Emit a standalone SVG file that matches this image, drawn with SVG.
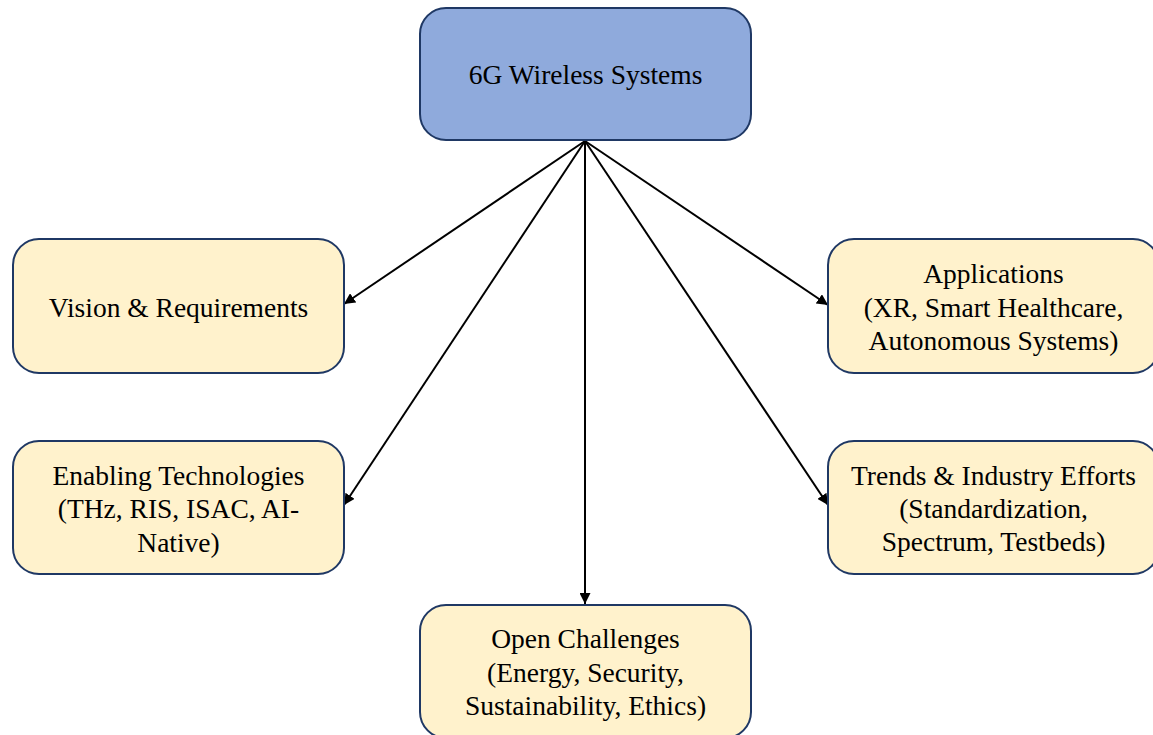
<svg xmlns="http://www.w3.org/2000/svg" width="1153" height="735" viewBox="0 0 1153 735">
<style>
.node rect{stroke:#1F3864;stroke-width:2}
.main rect{fill:#8FAADC}
.sub rect{fill:#FFF2CC}
text{font-family:"Liberation Serif","Times New Roman",serif;font-size:27.5px;fill:#000;text-anchor:middle}
.edge{stroke:#000;stroke-width:2;fill:none;marker-end:url(#arr)}
</style>
<defs>
<marker id="arr" viewBox="0 0 10 10" refX="10" refY="5" markerWidth="5.5" markerHeight="5.5" orient="auto" markerUnits="strokeWidth">
<path d="M0,0 L10,5 L0,10 z" fill="#000"/>
</marker>
</defs>
<rect width="1153" height="735" fill="#fff"/>
<g id="connectors">
<line class="edge" x1="585" y1="141" x2="344" y2="304"/>
<line class="edge" x1="585" y1="141" x2="344" y2="505"/>
<line class="edge" x1="585" y1="141" x2="585" y2="604"/>
<line class="edge" x1="585" y1="141" x2="828" y2="305"/>
<line class="edge" x1="585" y1="141" x2="828" y2="505"/>
</g>
<g id="n-6g" class="node main">
<rect x="420" y="8" width="331" height="132" rx="26"/>
<text x="585.5" y="84">6G Wireless Systems</text>
</g>
<g id="n-vision" class="node sub">
<rect x="13" y="239" width="331" height="134" rx="26"/>
<text x="178.5" y="317">Vision &amp; Requirements</text>
</g>
<g id="n-enabling" class="node sub">
<rect x="13" y="441" width="331" height="133" rx="26"/>
<text x="178.5" y="485">Enabling Technologies</text>
<text x="178.5" y="518">(THz, RIS, ISAC, AI-</text>
<text x="178.5" y="552">Native)</text>
</g>
<g id="n-apps" class="node sub">
<rect x="828" y="239" width="331" height="134" rx="26"/>
<text x="993.5" y="283">Applications</text>
<text x="993.5" y="317">(XR, Smart Healthcare,</text>
<text x="993.5" y="350">Autonomous Systems)</text>
</g>
<g id="n-trends" class="node sub">
<rect x="828" y="441" width="331" height="133" rx="26"/>
<text x="993.5" y="485">Trends &amp; Industry Efforts</text>
<text x="993.5" y="518">(Standardization,</text>
<text x="993.5" y="551">Spectrum, Testbeds)</text>
</g>
<g id="n-open" class="node sub">
<rect x="420" y="605" width="331" height="133" rx="26"/>
<text x="585.5" y="648">Open Challenges</text>
<text x="585.5" y="682">(Energy, Security,</text>
<text x="585.5" y="715">Sustainability, Ethics)</text>
</g>
</svg>
